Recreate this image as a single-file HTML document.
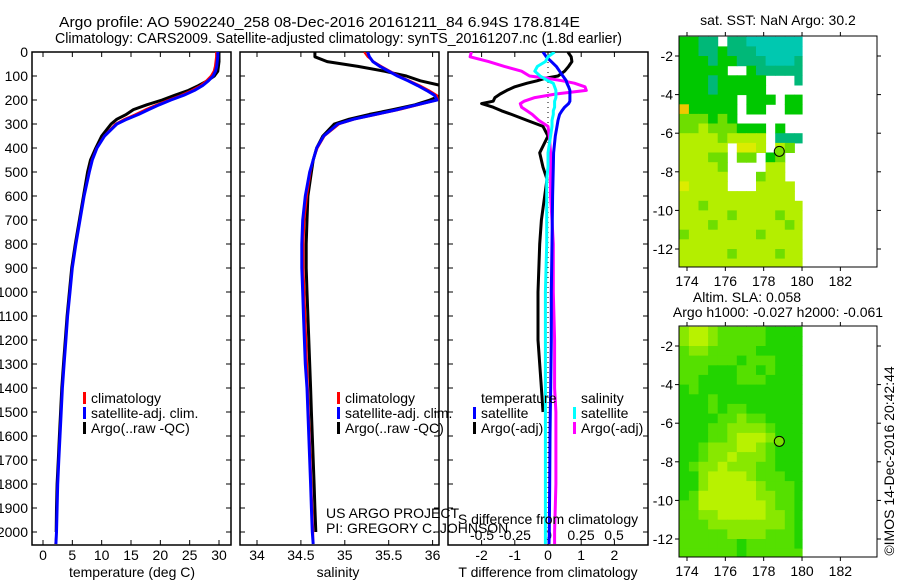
<!DOCTYPE html>
<html><head><meta charset="utf-8">
<style>
html,body{margin:0;padding:0;background:#fff;}
svg{display:block;font-family:"Liberation Sans",sans-serif;}
</style></head>
<body>
<svg id="chart" width="900" height="580" viewBox="0 0 900 580" xmlns="http://www.w3.org/2000/svg">
<rect width="900" height="580" fill="#fff"/>
<text x="59" y="27" font-size="14.5" textLength="521" lengthAdjust="spacingAndGlyphs">Argo profile: AO 5902240_258 08-Dec-2016 20161211_84 6.94S 178.814E</text>
<text x="55" y="43" font-size="14.5" textLength="567" lengthAdjust="spacingAndGlyphs">Climatology: CARS2009. Satellite-adjusted climatology: synTS_20161207.nc (1.8d earlier)</text>
<g id="g"></g>
</svg>
<script>
// ---- profile data ----
const depths=[0,20,40,60,80,100,120,140,160,180,200,220,240,260,280,300,350,400,450,500,600,700,800,900,1000,1100,1200,1300,1400,1500,1600,1700,1800,1900,2000,2050];
const tempSat=[29.8,29.8,29.7,29.6,29.4,29.0,28.2,27.2,25.8,24.0,21.8,19.8,18.0,16.3,14.3,12.6,10.5,9.2,8.4,7.9,7.0,6.3,5.6,5.0,4.6,4.2,3.9,3.6,3.3,3.1,2.9,2.7,2.5,2.4,2.3,2.2];
const tempClim=[29.5,29.5,29.4,29.3,29.1,28.6,27.8,26.8,25.3,23.5,21.3,19.3,17.4,15.7,13.8,12.3,10.4,9.1,8.3,7.8,7.0,6.3,5.6,5.0,4.6,4.2,3.9,3.6,3.3,3.1,2.9,2.7,2.5,2.4,2.3,2.1];
const tempArgo=[30.0,30.0,30.0,29.9,29.8,29.2,28.0,26.5,24.8,22.5,20.3,17.7,15.4,14.2,12.6,11.6,10.0,9.0,8.1,7.6,6.9,6.2,5.5,4.9,4.5,4.1,3.8,3.5,3.2,3.0,2.8,2.6,2.4,2.3,2.25,null];
const salSat=[35.26,35.28,35.32,35.40,35.50,35.60,35.72,35.83,35.93,36.02,36.05,35.82,35.60,35.35,35.10,34.92,34.76,34.68,34.64,34.60,34.55,34.52,34.51,34.51,34.52,34.53,34.54,34.55,34.57,34.58,34.59,34.60,34.61,34.62,34.63,34.64];
const salClim=[35.22,35.26,35.33,35.42,35.52,35.62,35.74,35.86,35.96,36.05,36.06,35.85,35.63,35.38,35.12,34.94,34.77,34.69,34.64,34.61,34.57,34.54,34.53,34.53,34.54,34.55,34.56,34.57,34.58,34.59,34.60,34.61,34.62,34.63,34.64,34.64];
const salArgo=[34.66,34.66,34.80,35.15,35.45,35.70,35.86,36.1,36.15,36.1,35.97,35.80,35.55,35.28,35.05,34.88,34.75,34.68,34.64,34.62,34.58,34.57,34.56,34.56,34.57,34.58,34.59,34.60,34.61,34.62,34.63,34.64,34.65,34.66,34.67,null];
// ---- difference data ----
const dDepths=[0,20,40,60,80,100,110,120,130,145,160,175,190,205,215,230,245,260,285,310,350,420,480,530,600,700,800,1000,1200,1400,1500,1600,1800,2000,2050];
const tDiffSat=[-0.15,-0.05,0.1,0.25,0.35,0.45,0.5,0.55,0.57,0.62,0.66,0.66,0.66,0.66,0.62,0.5,0.42,0.35,0.3,0.27,0.22,0.17,0.16,0.15,0.14,0.13,0.12,0.1,0.1,0.08,0.07,0.06,0.05,0.04,0.03];
const tDiffArgo=[0.6,0.7,0.72,0.62,0.5,0.3,-0.1,-0.33,-0.63,-1.0,-1.24,-1.44,-1.6,-1.65,-2.0,-1.65,-1.4,-1.1,-0.63,-0.15,0,-0.25,-0.15,-0.03,-0.1,-0.2,-0.25,-0.3,-0.3,-0.2,-0.15,null,null,null,null];
const sDiffArgo=[-0.58,-0.59,-0.45,-0.33,-0.2,-0.14,0.0,0.11,0.2,0.28,0.29,0.06,-0.1,-0.18,-0.21,-0.2,-0.16,-0.12,-0.07,0,0.01,0.02,0.02,0.02,0.02,0.03,0.04,0.04,0.05,0.05,0.06,0.06,0.06,0.05,0.05];
const sDiffSat=[0.05,0.0,-0.02,-0.08,-0.1,-0.06,-0.03,0.0,0.04,0.05,0.06,0.06,0.06,0.05,0.05,0.05,0.04,0.04,0.03,0.03,0.02,0.0,0.0,-0.01,-0.01,-0.01,-0.01,-0.02,-0.02,-0.02,-0.02,-0.02,-0.02,-0.02,-0.02];
// ---- tick labels ----
const depthTicks=[0,100,200,300,400,500,600,700,800,900,1000,1100,1200,1300,1400,1500,1600,1700,1800,1900,2000];
const tempTicks=[0,5,10,15,20,25,30];
const salTicks=[34,34.5,35,35.5,36];
const tDiffTicks=[-2,-1,0,1,2];
const sDiffTicks=[-0.5,-0.25,0,0.25,0.5];
const lonTicks=[174,176,178,180,182];
const latTicks=[-2,-4,-6,-8,-10,-12];
// ---- map grids (rows from lat -1 southward in 0.5 deg, cols from lon 173.6 eastward in 0.5 deg) ----
const sstGrid=["3322022111111","3322322211111","3332332221112","3333300322222","3332333330002","3332333330000","3333330333033","7333330330033","4443430000000","4454443330300","5555455550222","5555506650540","5554404403400","5555400005500","5555500045500","6555500055550","5555555555550","5545555555555","5555545555455","5554555555545","4555555545555","5555555555555","5555545555455","5555555555555"];
const slaGrid=["5665444443333","5665444443333","4554444433333","4444443444333","4443334434333","4433334443333","3433333333333","3334333333333","3334344333333","3333445443333","3334455554333","3334456665333","3345556654333","3345565554333","3455655544333","3356666544433","3356666654443","3466666655443","4466666665443","4455666665543","4445555555543","4444455554443","4444443444443","4444443444444"];
const argoLon=178.814, argoLat=-6.94;

const NS="http://www.w3.org/2000/svg";
const G=document.getElementById('g');
function el(tag,attrs,parent){const e=document.createElementNS(NS,tag);for(const k in attrs)e.setAttribute(k,attrs[k]);(parent||G).appendChild(e);return e;}
function txt(s,x,y,anchor,size,parent){const t=el('text',{x:x,y:y,'text-anchor':anchor||'start','font-size':size||14},parent);t.textContent=s;return t;}

const Y0=52,Y1=545;
const yD=d=>Y0+d*0.24;
const panels=[{x0:32,x1:231},{x0:240,x1:439},{x0:448,x1:648}];
const xT=v=>43+v*5.867;
const xS=v=>257+(v-34)*87.8;
const xTd=v=>548+v*33.2;
const xSd=v=>548+v*132;

const defs=el('defs',{});
panels.forEach((p,i)=>{const c=el('clipPath',{id:'clip'+i},defs);el('rect',{x:p.x0,y:Y0,width:p.x1-p.x0,height:Y1-Y0},c);});

function line(xs,ys,xf,color,w,name,clip,dash){
  let d='',pen=false;
  for(let i=0;i<xs.length;i++){if(xs[i]==null){pen=false;continue;}d+=(pen?'L':'M')+xf(xs[i]).toFixed(1)+' '+yD(ys[i]).toFixed(1);pen=true;}
  const p=el('path',{d:d,fill:'none',stroke:color,'stroke-width':w,'clip-path':'url(#clip'+clip+')','stroke-linejoin':'round'});
  
  
  if(dash)p.setAttribute('stroke-dasharray',dash);
  return p;
}
function frame(p,i){
  const r=el('rect',{x:p.x0,y:Y0,width:p.x1-p.x0,height:Y1-Y0,fill:'none',stroke:'#000','stroke-width':1.5});
  
  
  depthTicks.forEach(d=>{
    el('line',{x1:p.x0,x2:p.x0+5,y1:yD(d),y2:yD(d),stroke:'#000','stroke-width':1});
    el('line',{x1:p.x1-5,x2:p.x1,y1:yD(d),y2:yD(d),stroke:'#000','stroke-width':1});
  });
}
function xticks(p,ticks,xf,labelY){
  ticks.forEach(v=>{
    const x=xf(v);
    el('line',{x1:x,x2:x,y1:Y1-5,y2:Y1,stroke:'#000'});
    el('line',{x1:x,x2:x,y1:Y0,y2:Y0+5,stroke:'#000'});
    if(labelY){const t=txt(String(v),x,labelY,'middle',14);
      
      }
  });
}
frame(panels[0],0);
depthTicks.forEach(d=>{const t=txt(String(d),28,yD(d)+5,'end',14);
  
  });
xticks(panels[0],tempTicks,xT,560);
line(tempArgo,depths,xT,'#000',3,'temp-argo-line',0);
line(tempClim,depths,xT,'#f00',2,'temp-climatology-line',0);
line(tempSat,depths,xT,'#00f',3,'temp-satellite-line',0);
let t=txt('temperature (deg C)',132,577,'middle',14);
frame(panels[1],1);
xticks(panels[1],salTicks,xS,560);
line(salArgo,depths,xS,'#000',3,'sal-argo-line',1);
line(salClim,depths,xS,'#f00',2,'sal-climatology-line',1);
line(salSat,depths,xS,'#00f',3,'sal-satellite-line',1);
t=txt('salinity',338,577,'middle',14);
frame(panels[2],2);
xticks(panels[2],tDiffTicks,xTd,560);
sDiffTicks.forEach(v=>{const tt=txt(String(v),xSd(v),540,'middle',14);});
el('line',{x1:xTd(0),x2:xTd(0),y1:Y0,y2:Y1,stroke:'#000','stroke-width':1,'stroke-dasharray':'1 4'});
line(tDiffArgo,dDepths,xTd,'#000',3,'tdiff-argo-line',2);
line(sDiffArgo,dDepths,xSd,'#f0f',3,'sdiff-argo-line',2);
line(tDiffSat,dDepths,xTd,'#00f',3,'tdiff-satellite-line',2);
line(sDiffSat,dDepths,xSd,'#0ff',3,'sdiff-satellite-line',2);
t=txt('S difference from climatology',548,524,'middle',14);
t=txt('T difference from climatology',548,577,'middle',14);

function legend(x,y,color,label,name){
  const g=el('g',{});
  el('rect',{x:x,y:y-11,width:3,height:12,fill:color},g);
  txt(label,x+8,y,'start',14,g);
}
legend(83,403,'#f00','climatology','legend-climatology-temp');
legend(83,418,'#00f','satellite-adj. clim.','legend-satellite-temp');
legend(83,433,'#000','Argo(..raw -QC)','legend-argo-temp');
legend(337,403,'#f00','climatology','legend-climatology-sal');
legend(337,418,'#00f','satellite-adj. clim.','legend-satellite-sal');
legend(337,433,'#000','Argo(..raw -QC)','legend-argo-sal');
t=txt('temperature',481,403,'start',14);
t=txt('salinity',581,403,'start',14);
legend(473,418,'#00f','satellite','legend-tdiff-satellite');
legend(473,433,'#000','Argo(-adj)','legend-tdiff-argo');
legend(573,418,'#0ff','satellite','legend-sdiff-satellite');
legend(573,433,'#f0f','Argo(-adj)','legend-sdiff-argo');
t=txt('US ARGO PROJECT',326,518,'start',14);
t=txt('PI: GREGORY C. JOHNSON',326,533,'start',14);

const MX0=679,MX1=877;
const lonX=l=>687+(l-174)*19.17;
function drawMap(top,bottom,grid,palette,name){
  const latY=l=>top+20+(-2-l)*19.3;
  const g=el('g',{});
  const cid='clipm'+name;const c=el('clipPath',{id:cid},defs);el('rect',{x:MX0,y:top,width:MX1-MX0,height:bottom-top},c);
  const cells=el('g',{'clip-path':'url(#'+cid+')'},g);
  grid.forEach((row,ri)=>{
    for(let ci=0;ci<row.length;ci++){
      const code=row[ci];if(code==='0')continue;
      const lon0=173.6+ci*0.5, lon1=Math.min(180,lon0+0.5);
      const lat0=-1-ri*0.5, lat1=lat0-0.5;
      const x=lonX(lon0),y=latY(lat0);
      const r=el('rect',{x:x.toFixed(1),y:y.toFixed(1),width:(lonX(lon1)-x+0.5).toFixed(1),height:(latY(lat1)-y+0.5).toFixed(1),fill:palette[code]},cells);
      
      
    }
  });
  el('rect',{x:MX0,y:top,width:MX1-MX0,height:bottom-top,fill:'none',stroke:'#000','stroke-width':1},g);
  lonTicks.forEach(l=>{const x=lonX(l);
    el('line',{x1:x,x2:x,y1:top-4,y2:top,stroke:'#000'},g);
    el('line',{x1:x,x2:x,y1:bottom,y2:bottom+4,stroke:'#000'},g);
    const tt=txt(String(l),x,bottom+19,'middle',14,g);});
  latTicks.forEach(l=>{const y=latY(l);
    el('line',{x1:MX0-4,x2:MX0,y1:y,y2:y,stroke:'#000'},g);
    el('line',{x1:MX1,x2:MX1+4,y1:y,y2:y,stroke:'#000'},g);
    const tt=txt(String(l),673,y+5,'end',14,g);});
  const m=el('circle',{cx:lonX(argoLon),cy:latY(argoLat),r:5,fill:'#7ae000',stroke:'#000','stroke-width':1},g);
  
  
}
drawMap(36,267,sstGrid,{'1':'#00c8b0','2':'#00b878','3':'#00c800','4':'#6ede00','5':'#b4ee00','6':'#dcec00','7':'#f0c800'},'sst-map');
drawMap(326,557,slaGrid,{'3':'#22d400','4':'#55e000','5':'#88e800','6':'#b8f200'},'sla-map');
t=txt('sat. SST: NaN Argo: 30.2',778,25,'middle',14);
t=txt('Altim. SLA: 0.058',747,302,'middle',14);
t=txt('Argo h1000: -0.027 h2000: -0.061',778,317,'middle',14);
t=txt('©IMOS 14-Dec-2016 20:42:44',0,0,'middle',14);t.setAttribute('transform','translate(894,461) rotate(-90)');
</script>
</body></html>
